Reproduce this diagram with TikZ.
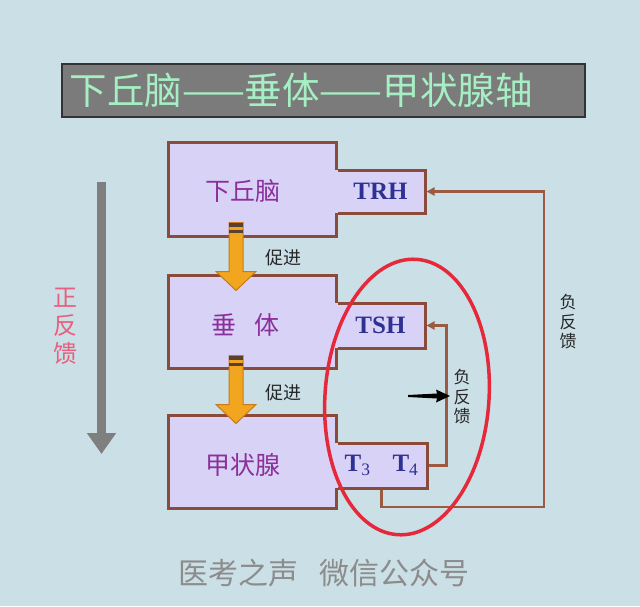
\documentclass[tikz,border=0pt]{standalone}
\usepackage{fontspec}
\setmainfont{Liberation Serif}
\newfontfamily\cjk{Noto Sans CJK SC}
\newfontfamily\tnr{Liberation Serif}
\usetikzlibrary{arrows.meta,shapes.geometric,calc}
\definecolor{bgc}{HTML}{CBDFE6}
\definecolor{boxfill}{HTML}{D8D2F6}
\definecolor{boxline}{HTML}{8A4B3B}
\definecolor{lblpurple}{HTML}{8B2F9B}
\definecolor{hormblue}{HTML}{2E3192}
\definecolor{orangearr}{HTML}{F2A51E}
\definecolor{orangedark}{HTML}{C9781A}
\definecolor{stripec}{HTML}{5A4030}
\definecolor{titlegray}{HTML}{7B7B7B}
\definecolor{titletext}{HTML}{A6EFC4}
\definecolor{ringred}{HTML}{E5293A}
\definecolor{pinkred}{HTML}{E8607F}
\definecolor{wmgray}{HTML}{8C8C8C}
\definecolor{fbline}{HTML}{9C5A40}
\definecolor{arrowgray}{HTML}{7F7F7F}
\tikzset{
  boxmain/.style={draw=boxline, fill=boxfill, line width=3, minimum width=168, minimum height=94, inner sep=0},
  boxtab/.style={draw=boxline, fill=boxfill, line width=3, minimum width=89, minimum height=43, inner sep=0,
    font=\tnr\bfseries\fontsize{25}{25}\selectfont, text=hormblue},
  organlbl/.style={font=\cjk\fontsize{25}{25}\selectfont, text=lblpurple, inner sep=0},
  promote/.style={fill=orangearr, draw=orangedark, line width=1},
  promtext/.style={font=\cjk\fontsize{18}{18}\selectfont, text=black!85, inner sep=0},
  fb/.style={draw=fbline, line width=2.5, -{Triangle[width=8pt,length=8pt]}},
  fbtext/.style={font=\cjk\fontsize{17}{19.5}\selectfont, text=black!85, align=center, inner sep=0},
}
\begin{document}
\begin{tikzpicture}[x=1pt,y=-1pt]
\fill[bgc] (0,0) rectangle (640,606);
\useasboundingbox (0,0) rectangle (640,606);

% title
\node[draw=black!80, line width=2, fill=titlegray, minimum width=523, minimum height=53,
      anchor=north west, inner xsep=8, inner ysep=0, text width=507, align=left,
      font=\cjk\fontsize{37.5}{37.5}\selectfont, text=titletext] (title) at (60.5,63) {下丘脑——垂体——甲状腺轴};

% left gray arrow and label
\coordinate (gtop) at (101.5,182);
\coordinate (gbot) at (101.5,454);
\draw[draw=arrowgray, line width=9, -{Triangle[width=28pt,length=21pt]}] (gtop) -- (gbot);
\node[font=\cjk\fontsize{24}{28}\selectfont, text=pinkred, align=center, inner sep=0] (posfb) at (65,326) {正\\反\\馈};

% box 1
\node[boxmain] (hyp) at (252,189) {};
\node[boxtab] (trh) at (380.5,191.5) {TRH};
\fill[boxfill] ($(trh.north west)+(-3,1.5)$) rectangle ($(trh.south west)+(3,-1.5)$);
\node[organlbl] (hyplbl) at (243,191) {下丘脑};

% box 2
\node[boxmain, minimum height=93] (pit) at (252,321.5) {};
\node[boxtab, minimum height=45] (tsh) at (380.5,325.5) {TSH};
\fill[boxfill] ($(tsh.north west)+(-3,1.5)$) rectangle ($(tsh.south west)+(3,-1.5)$);
\node[organlbl] (pitlbl) at (245,325) {垂\hspace{18pt}体};

% box 3
\node[boxmain, minimum height=93] (thy) at (252,461.5) {};
\node[boxtab, minimum width=91, minimum height=45] (t34) at (381.5,465.5)
  {T\textsubscript{\mdseries 3}\hspace{22pt}T\textsubscript{\mdseries 4}};
\fill[boxfill] ($(t34.north west)+(-3,1.5)$) rectangle ($(t34.south west)+(3,-1.5)$);
\node[organlbl] (thylbl) at (243,465) {甲状腺};

% promoting arrows
\coordinate (a1s) at ($(hyp.south)+(-16,-15)$);
\coordinate (a1e) at ($(pit.north)+(-16,17)$);
\filldraw[promote] ($(a1s)+(-7,0)$) -- ($(a1e)+(-7,-19)$) -- ($(a1e)+(-20,-19)$) -- (a1e)
  -- ($(a1e)+(20,-19)$) -- ($(a1e)+(7,-19)$) -- ($(a1s)+(7,0)$) -- cycle;
\fill[stripec] ($(a1s)+(-7,0)$) rectangle ($(a1s)+(7,4)$);
\fill[stripec] ($(a1s)+(-7,7)$) rectangle ($(a1s)+(7,10)$);
\node[promtext] (p1) at (283,258) {促进};

\coordinate (a2s) at ($(pit.south)+(-16,-14)$);
\coordinate (a2e) at ($(thy.north)+(-16,10)$);
\filldraw[promote] ($(a2s)+(-7,0)$) -- ($(a2e)+(-7,-19)$) -- ($(a2e)+(-20,-19)$) -- (a2e)
  -- ($(a2e)+(20,-19)$) -- ($(a2e)+(7,-19)$) -- ($(a2s)+(7,0)$) -- cycle;
\fill[stripec] ($(a2s)+(-7,0)$) rectangle ($(a2s)+(7,4)$);
\fill[stripec] ($(a2s)+(-7,7)$) rectangle ($(a2s)+(7,10)$);
\node[promtext] (p2) at (283,393) {促进};

% feedback loops
\draw[fb] (t34.east) -- ++(18,0) |- (tsh.east);
\coordinate (outerbr) at (544,507);
\draw[fb] (t34.south) |- (outerbr) |- (trh.east);
\node[fbtext] (fbin) at (462,397) {负\\反\\馈};
\node[fbtext] (fbout) at (568,322) {负\\反\\馈};

% black pointer
\coordinate (barS) at (408,396);
\coordinate (barE) at (450,396);
\fill[black] ($(barS)+(0,-1)$) -- ($(barE)+(-13,-2.5)$) -- ($(barE)+(-14,-6.5)$) -- (barE)
  -- ($(barE)+(-14,6.5)$) -- ($(barE)+(-13,2.5)$) -- ($(barS)+(0,1)$) -- cycle;

% red ring
\node[draw=ringred, line width=3.5, ellipse, minimum width=164, minimum height=276, rotate=-4, inner sep=0] (ring) at (407,397) {};

% watermark
\node[font=\cjk\fontsize{30}{30}\selectfont, text=wmgray, inner sep=0] (wm) at (323.5,573) {医考之声\hspace{21pt}微信公众号};
\end{tikzpicture}
\end{document}
